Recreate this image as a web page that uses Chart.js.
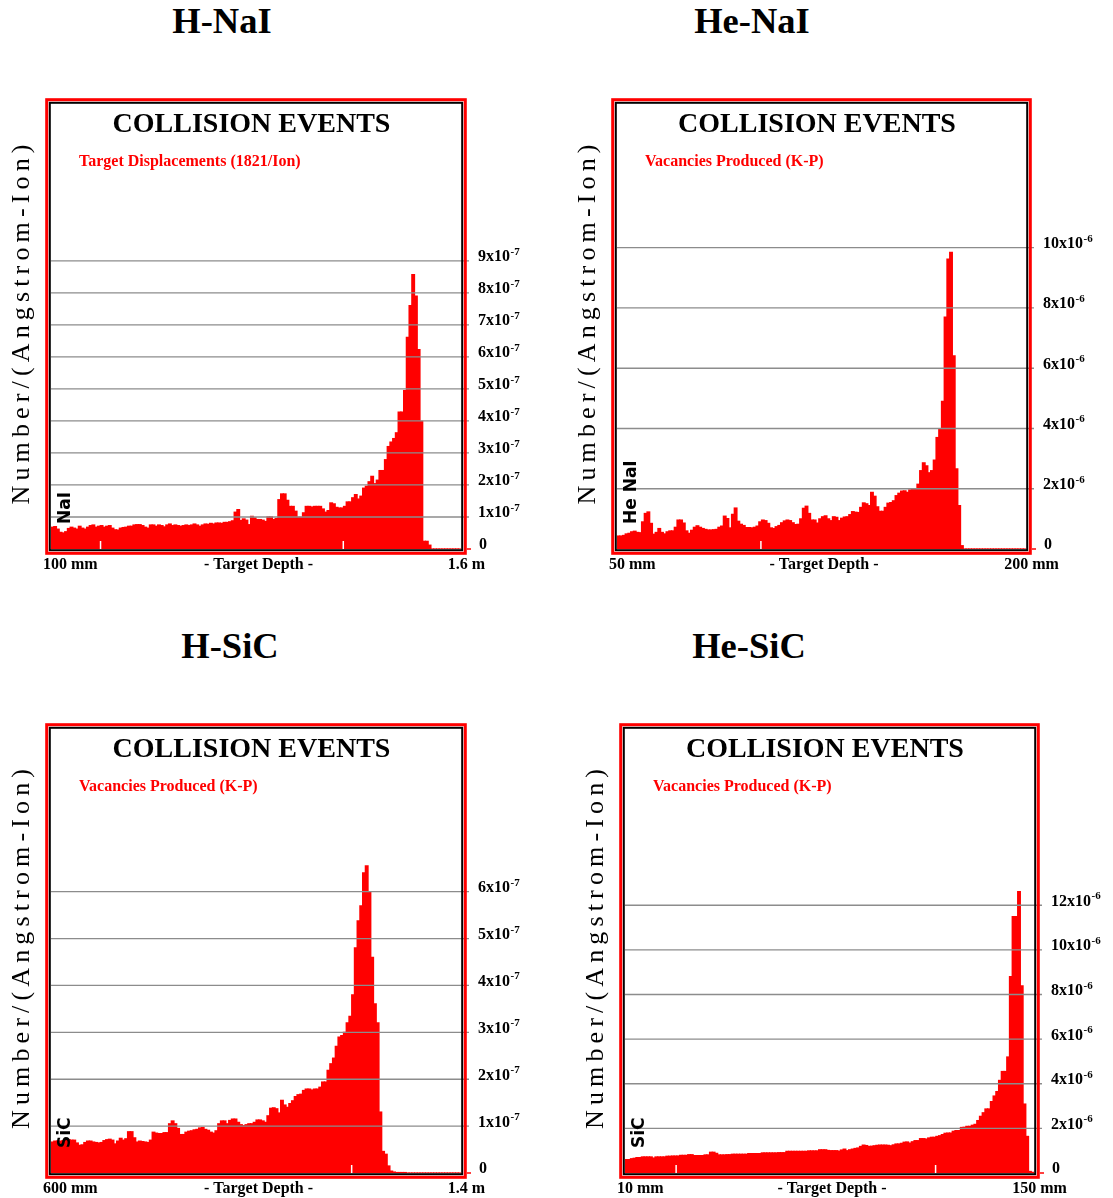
<!DOCTYPE html>
<html>
<head>
<meta charset="utf-8">
<title>Collision events</title>
<script src="https://cdn.jsdelivr.net/npm/chart.js@4.4.1/dist/chart.umd.min.js"></script>
<style>
  html, body { margin: 0; padding: 0; background: #fff; }
  body { position: relative; width: 1113px; height: 1198px; overflow: hidden; }
  .title {
    position: absolute; width: 240px; text-align: center; color: #000;
    font: bold 36.5px "Liberation Serif", "Times New Roman", serif; line-height: 36.5px;
  }
  .panel { position: absolute; }
  .panel canvas { display: block; }
</style>
</head>
<body>
<div class="title" style="left:102px; top:3px;">H-NaI</div>
<div class="title" style="left:632px; top:3px;">He-NaI</div>
<div class="title" style="left:110px; top:628px;">H-SiC</div>
<div class="title" style="left:629px; top:628px;">He-SiC</div>

<script>
// --- data (150 depth bins each) ---
const hNaIRange = [100, 1600];   // mm
const hNaITicks = [0, 1, 2, 3, 4, 5, 6, 7, 8, 9];   // x10^-7
const hNaIMarks = [200, 1215];
const hNaIValues = [
  0.68, 0.70, 0.62, 0.52, 0.50, 0.54, 0.64, 0.68, 0.65, 0.62,
  0.71, 0.65, 0.62, 0.68, 0.73, 0.75, 0.68, 0.71, 0.73, 0.68,
  0.71, 0.73, 0.65, 0.60, 0.59, 0.65, 0.67, 0.68, 0.71, 0.71,
  0.75, 0.76, 0.76, 0.73, 0.68, 0.65, 0.75, 0.75, 0.71, 0.75,
  0.73, 0.69, 0.75, 0.78, 0.73, 0.75, 0.73, 0.71, 0.73, 0.75,
  0.73, 0.75, 0.78, 0.75, 0.71, 0.75, 0.78, 0.77, 0.80, 0.78,
  0.81, 0.81, 0.80, 0.83, 0.83, 0.85, 0.88, 1.15, 1.23, 0.89,
  0.94, 0.90, 0.76, 1.02, 0.97, 0.92, 0.92, 0.90, 0.86, 1.00,
  1.00, 0.92, 0.95, 1.54, 1.72, 1.72, 1.52, 1.33, 1.33, 1.18,
  0.99, 0.99, 1.13, 1.33, 1.33, 1.31, 1.33, 1.33, 1.33, 1.25,
  1.15, 1.20, 1.44, 1.41, 1.30, 1.28, 1.28, 1.33, 1.47, 1.47,
  1.60, 1.70, 1.56, 1.65, 1.90, 1.96, 2.10, 2.27, 2.04, 2.15,
  2.45, 2.45, 2.79, 3.20, 3.34, 3.45, 3.63, 4.28, 4.28, 4.95,
  6.61, 7.60, 8.57, 7.90, 6.23, 3.99, 0.24, 0.24, 0.12, 0,
  0, 0, 0, 0, 0, 0, 0, 0, 0, 0
];

const heNaIRange = [50, 200];    // mm
const heNaITicks = [0, 2, 4, 6, 8, 10];   // x10^-6
const heNaIMarks = [100];
const heNaIValues = [
  0.43, 0.43, 0.45, 0.50, 0.52, 0.57, 0.59, 0.55, 0.54, 0.90,
  1.18, 1.23, 0.85, 0.49, 0.55, 0.68, 0.55, 0.50, 0.57, 0.60,
  0.60, 0.72, 0.96, 0.96, 0.86, 0.60, 0.52, 0.62, 0.72, 0.77,
  0.72, 0.68, 0.65, 0.63, 0.63, 0.64, 0.65, 0.72, 0.76, 1.09,
  1.01, 0.70, 1.15, 1.36, 0.92, 0.82, 0.78, 0.71, 0.71, 0.70,
  0.72, 0.76, 0.90, 0.96, 0.94, 0.85, 0.70, 0.68, 0.74, 0.78,
  0.87, 0.93, 0.96, 0.94, 0.87, 0.81, 0.82, 1.00, 1.35, 1.42,
  1.18, 0.96, 0.96, 0.86, 1.00, 1.07, 1.10, 1.00, 0.94, 1.07,
  1.05, 0.94, 1.02, 1.06, 1.07, 1.14, 1.24, 1.22, 1.21, 1.38,
  1.53, 1.50, 1.44, 1.88, 1.75, 1.40, 1.25, 1.25, 1.38, 1.52,
  1.54, 1.60, 1.77, 1.85, 1.92, 1.93, 1.88, 1.96, 2.00, 2.00,
  2.15, 2.60, 2.86, 2.76, 2.53, 2.60, 2.95, 3.70, 3.97, 4.90,
  7.70, 9.62, 9.85, 6.41, 2.66, 1.44, 0.11, 0, 0, 0,
  0, 0, 0, 0, 0, 0, 0, 0, 0, 0,
  0, 0, 0, 0, 0, 0, 0, 0, 0, 0
];

const hSiCRange = [600, 1400];   // mm
const hSiCTicks = [0, 1, 2, 3, 4, 5, 6];   // x10^-7
const hSiCMarks = [1210];
const hSiCValues = [
  0.66, 0.68, 0.68, 0.68, 0.69, 0.71, 0.71, 0.70, 0.70, 0.64,
  0.59, 0.60, 0.65, 0.68, 0.68, 0.66, 0.65, 0.64, 0.65, 0.69,
  0.71, 0.72, 0.70, 0.62, 0.68, 0.74, 0.70, 0.73, 0.88, 0.88,
  0.75, 0.66, 0.68, 0.67, 0.66, 0.65, 0.70, 0.87, 0.85, 0.84,
  0.84, 0.86, 0.86, 1.05, 1.11, 1.05, 0.95, 0.82, 0.82, 0.87,
  0.89, 0.90, 0.92, 0.93, 0.96, 0.97, 0.93, 0.91, 0.87, 0.85,
  0.90, 1.05, 1.11, 1.11, 1.05, 1.12, 1.15, 1.15, 1.08, 1.03,
  1.01, 1.03, 1.05, 1.05, 1.08, 1.13, 1.13, 1.11, 1.08, 1.22,
  1.38, 1.39, 1.37, 1.28, 1.55, 1.45, 1.40, 1.48, 1.54, 1.63,
  1.67, 1.68, 1.76, 1.79, 1.79, 1.77, 1.79, 1.79, 1.83, 1.94,
  1.94, 2.19, 2.33, 2.45, 2.70, 2.90, 2.93, 3.00, 3.20, 3.34,
  3.80, 4.80, 5.38, 5.70, 6.40, 6.55, 6.00, 4.60, 3.61, 3.20,
  1.30, 0.46, 0.40, 0.15, 0.04, 0.02, 0.01, 0.01, 0.01, 0.01,
  0, 0, 0, 0, 0, 0, 0, 0, 0, 0,
  0, 0, 0, 0, 0, 0, 0, 0, 0, 0
];

const heSiCRange = [10, 150];    // mm
const heSiCTicks = [0, 2, 4, 6, 8, 10, 12];   // x10^-6
const heSiCMarks = [20, 121.5];
const heSiCValues = [
  0.60, 0.60, 0.64, 0.66, 0.69, 0.69, 0.72, 0.72, 0.72, 0.72,
  0.67, 0.72, 0.72, 0.72, 0.72, 0.75, 0.75, 0.76, 0.76, 0.76,
  0.79, 0.79, 0.79, 0.82, 0.82, 0.78, 0.78, 0.78, 0.78, 0.81,
  0.81, 0.93, 0.93, 0.88, 0.81, 0.81, 0.81, 0.82, 0.82, 0.84,
  0.84, 0.84, 0.84, 0.84, 0.84, 0.87, 0.87, 0.87, 0.87, 0.87,
  0.90, 0.90, 0.90, 0.90, 0.90, 0.90, 0.91, 0.91, 0.91, 0.97,
  0.97, 0.97, 0.97, 0.97, 0.97, 0.97, 0.97, 0.99, 0.99, 0.99,
  0.99, 1.04, 1.04, 1.04, 1.01, 1.00, 1.00, 1.00, 0.98, 1.03,
  1.07, 1.00, 1.04, 1.07, 1.10, 1.12, 1.19, 1.25, 1.23, 1.19,
  1.20, 1.22, 1.24, 1.25, 1.25, 1.25, 1.24, 1.22, 1.26, 1.30,
  1.30, 1.33, 1.38, 1.39, 1.34, 1.40, 1.45, 1.45, 1.54, 1.54,
  1.52, 1.57, 1.60, 1.60, 1.64, 1.67, 1.72, 1.78, 1.79, 1.79,
  1.87, 1.90, 1.90, 2.04, 2.05, 2.09, 2.09, 2.14, 2.18, 2.35,
  2.54, 2.70, 2.87, 2.87, 3.20, 3.45, 3.65, 4.15, 4.55, 4.55,
  5.20, 8.80, 11.49, 11.49, 12.61, 8.39, 3.09, 1.64, 0.07, 0.03
];

// --- drawing ---
const SERIF = '"Liberation Serif", "Times New Roman", serif';
const SANS = '"DejaVu Sans", "Liberation Sans", sans-serif';
const PAD = { left: 48, top: 10, right: 76, bottom: 26 };

// letter-spaced text running bottom-to-top, centred on (cx, cy)
function spacedVertical(ctx, text, cx, cy, total) {
  const chars = [...text];
  const widths = chars.map(c => ctx.measureText(c).width);
  const natural = widths.reduce((s, w) => s + w, 0);
  const gap = (total - natural) / (chars.length - 1);
  ctx.save();
  ctx.translate(cx, cy);
  ctx.rotate(-Math.PI / 2);
  ctx.textAlign = 'left';
  ctx.textBaseline = 'middle';
  let x = -total / 2;
  chars.forEach((c, i) => { ctx.fillText(c, x, 0); x += widths[i] + gap; });
  ctx.restore();
}

function makePanel(cfg) {
  const holder = document.createElement('div');
  holder.className = 'panel';
  holder.style.left = (cfg.plot.left - PAD.left) + 'px';
  holder.style.top = (cfg.plot.top - PAD.top) + 'px';
  const canvas = document.createElement('canvas');
  canvas.width = cfg.plot.width + PAD.left + PAD.right;
  canvas.height = cfg.plot.height + PAD.top + PAD.bottom;
  holder.appendChild(canvas);
  document.body.appendChild(holder);

  const n = cfg.values.length;
  const step = (cfg.range[1] - cfg.range[0]) / n;
  const labels = cfg.values.map((_, i) => (cfg.range[0] + (i + 0.5) * step).toFixed(2));

  const decor = {
    id: 'srimDecor',
    afterDatasetsDraw(chart) {
      const { ctx, chartArea: a } = chart;
      const y = chart.scales.y;
      const depth = chart.scales.depth;
      ctx.save();

      // white depth ticks over the bars
      ctx.strokeStyle = '#fff';
      ctx.lineWidth = 1.5;
      cfg.marks.forEach(d => {
        const px = depth.getPixelForValue(d);
        ctx.beginPath(); ctx.moveTo(px, a.bottom); ctx.lineTo(px, a.bottom - 8); ctx.stroke();
      });

      // grid lines (drawn over the bars like the original)
      ctx.strokeStyle = '#8c8c8c';
      ctx.lineWidth = 1.3;
      cfg.ticks.forEach(t => {
        if (t === 0) return;
        const py = y.getPixelForValue(t);
        ctx.beginPath(); ctx.moveTo(a.left, py); ctx.lineTo(a.right + 8, py); ctx.stroke();
      });

      // double frame
      ctx.strokeStyle = '#000';
      ctx.lineWidth = 2;
      ctx.strokeRect(a.left - 1.2, a.top - 1.2, a.width + 2.4, a.height + 2.4);
      ctx.strokeStyle = '#ff0000';
      ctx.lineWidth = 3;
      ctx.strokeRect(a.left - 4.3, a.top - 4.3, a.width + 8.6, a.height + 8.6);
      ctx.lineWidth = 1.5;
      ctx.beginPath(); ctx.moveTo(a.right + 6, a.bottom); ctx.lineTo(a.right + 10, a.bottom); ctx.stroke();

      // right-hand tick labels
      ctx.fillStyle = '#000';
      ctx.textAlign = 'left';
      ctx.textBaseline = 'alphabetic';
      const tx = a.right + 17;
      cfg.ticks.forEach(t => {
        const py = y.getPixelForValue(t);
        ctx.font = 'bold 16px ' + SERIF;
        if (t === 0) { ctx.fillText('0', tx + 1, py); return; }
        const main = t + 'x10';
        ctx.fillText(main, tx, py + 0.5);
        const w = ctx.measureText(main).width;
        ctx.font = 'bold 11px ' + SERIF;
        ctx.fillText(cfg.exponent, tx + w + 0.5, py - 6);
      });

      // titles inside the frame
      ctx.textAlign = 'center';
      ctx.font = 'bold 28px ' + SERIF;
      ctx.fillText('COLLISION EVENTS', (a.left + a.right) / 2 - 4.5, a.top + 28);
      ctx.textAlign = 'left';
      ctx.fillStyle = '#ff0000';
      ctx.font = 'bold 16px ' + SERIF;
      ctx.fillText(cfg.subtitle, a.left + 28, a.top + 62);

      // target material, rotated
      ctx.save();
      ctx.translate(a.left + 19, a.bottom - 25);
      ctx.rotate(-Math.PI / 2);
      ctx.fillStyle = '#000';
      ctx.font = 'bold 17px ' + SANS;
      ctx.fillText(cfg.material, 0, 0);
      ctx.restore();

      // depth axis labels
      ctx.fillStyle = '#000';
      ctx.font = 'bold 16px ' + SERIF;
      const by = a.bottom + 20;
      ctx.textAlign = 'left';
      ctx.fillText(cfg.xLabels[0], a.left - 8, by);
      ctx.textAlign = 'center';
      ctx.fillText('- Target Depth -', (a.left + a.right) / 2 + 2.5, by);
      ctx.fillText(cfg.xLabels[1], a.right + 5.5, by);

      // left axis title
      ctx.font = '26px ' + SERIF;
      spacedVertical(ctx, 'Number/(Angstrom-Ion)', a.left - 28.5, (a.top + a.bottom) / 2 - 2, 360);

      ctx.restore();
    }
  };

  return new Chart(canvas, {
    type: 'bar',
    data: {
      labels: labels,
      datasets: [{
        data: cfg.values,
        backgroundColor: '#ff0000',
        borderWidth: 0,
        inflateAmount: 0.6,
        barPercentage: 1,
        categoryPercentage: 1
      }]
    },
    options: {
      responsive: false,
      animation: false,
      devicePixelRatio: 1,
      layout: { padding: PAD },
      plugins: { legend: { display: false }, tooltip: { enabled: false } },
      scales: {
        x: { display: false },
        depth: { type: 'linear', axis: 'x', position: 'bottom', display: false, min: cfg.range[0], max: cfg.range[1] },
        y: { display: false, min: 0, max: cfg.yMax }
      }
    },
    plugins: [decor]
  });
}

makePanel({
  plot: { left: 51, top: 104, width: 410, height: 445 }, yMax: 13.9,
  values: hNaIValues, range: hNaIRange, ticks: hNaITicks, marks: hNaIMarks, exponent: '-7',
  subtitle: 'Target Displacements (1821/Ion)', material: 'NaI', xLabels: ['100 mm', '1.6 m']
});
makePanel({
  plot: { left: 617, top: 104, width: 409, height: 445 }, yMax: 14.77,
  values: heNaIValues, range: heNaIRange, ticks: heNaITicks, marks: heNaIMarks, exponent: '-6',
  subtitle: 'Vacancies Produced (K-P)', material: 'He NaI', xLabels: ['50 mm', '200 mm']
});
makePanel({
  plot: { left: 51, top: 729, width: 410, height: 444 }, yMax: 9.47,
  values: hSiCValues, range: hSiCRange, ticks: hSiCTicks, marks: hSiCMarks, exponent: '-7',
  subtitle: 'Vacancies Produced (K-P)', material: 'SiC', xLabels: ['600 mm', '1.4 m']
});
makePanel({
  plot: { left: 625, top: 729, width: 409, height: 444 }, yMax: 19.9,
  values: heSiCValues, range: heSiCRange, ticks: heSiCTicks, marks: heSiCMarks, exponent: '-6',
  subtitle: 'Vacancies Produced (K-P)', material: 'SiC', xLabels: ['10 mm', '150 mm']
});
</script>
</body>
</html>
